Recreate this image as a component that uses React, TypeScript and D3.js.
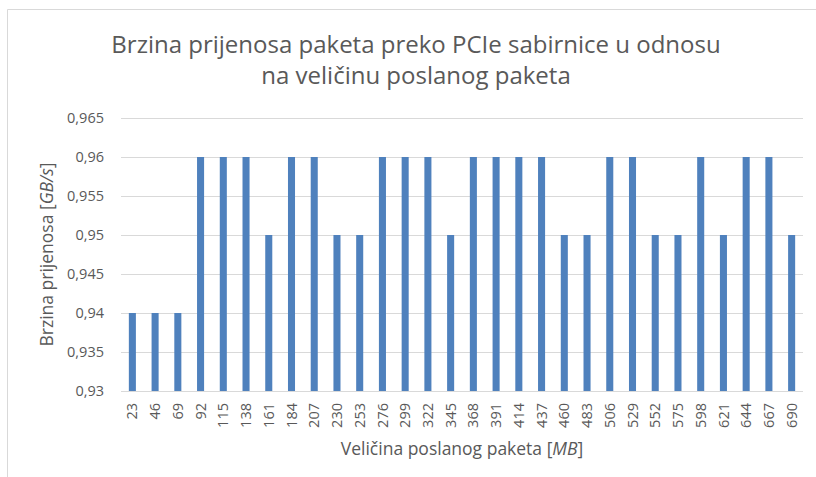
import React, { useEffect, useRef } from 'react';
import * as d3 from 'd3';

// packet sizes in MB
const sizes = [
  23, 46, 69, 92, 115, 138, 161, 184, 207, 230,
  253, 276, 299, 322, 345, 368, 391, 414, 437, 460,
  483, 506, 529, 552, 575, 598, 621, 644, 667, 690,
];

// transfer rate in GB/s
const rates = [
  0.94, 0.94, 0.94, 0.96, 0.96, 0.96, 0.95, 0.96, 0.96, 0.95,
  0.95, 0.96, 0.96, 0.96, 0.95, 0.96, 0.96, 0.96, 0.96, 0.95,
  0.95, 0.96, 0.96, 0.95, 0.95, 0.96, 0.95, 0.96, 0.96, 0.95,
];

const yTicks = [0.93, 0.935, 0.94, 0.945, 0.95, 0.955, 0.96, 0.965];

const titleLines = [
  'Brzina prijenosa paketa preko PCIe sabirnice u odnosu',
  'na veličinu poslanog paketa',
];

const W = 816;
const H = 477;
const TEXT = '#595959';
const FONT = "'Open Sans', 'Noto Sans', sans-serif";

export default function App() {
  const svgRef = useRef<SVGSVGElement>(null);

  useEffect(() => {
    if (!svgRef.current) return;
    const svg = d3.select(svgRef.current);
    svg.selectAll('*').remove();

    const left = 121;
    const right = 803;
    const top = 118;
    const bottom = 391;

    const x = d3.scaleBand<number>()
      .domain(sizes)
      .range([left, right])
      .paddingInner(0.69)
      .paddingOuter(0.345);

    const y = d3.scaleLinear().domain([0.93, 0.965]).range([bottom, top]);

    // chart frame
    svg.append('path')
      .attr('d', `M7.5,${H} V9.5 H${W}`)
      .attr('fill', 'none')
      .attr('stroke', '#d9d9d9')
      .attr('stroke-width', 1);

    // title
    const title = svg.append('text')
      .attr('text-anchor', 'middle')
      .attr('fill', TEXT)
      .style('font-family', FONT)
      .style('font-size', '24px');
    titleLines.forEach((line, i) => {
      title.append('tspan')
        .attr('x', 416)
        .attr('y', 53 + i * 31)
        .text(line);
    });

    // gridlines
    svg.append('g')
      .selectAll('line')
      .data(yTicks)
      .join('line')
      .attr('x1', left)
      .attr('x2', right)
      .attr('y1', d => Math.round(y(d)) + 0.5)
      .attr('y2', d => Math.round(y(d)) + 0.5)
      .attr('stroke', '#d9d9d9')
      .attr('stroke-width', 1);

    // y tick labels
    const fmt = (v: number) => d3.format('.3~f')(v).replace('.', ',');
    svg.append('g')
      .selectAll('text')
      .data(yTicks)
      .join('text')
      .attr('x', 104)
      .attr('y', d => y(d))
      .attr('dy', '0.35em')
      .attr('text-anchor', 'end')
      .attr('fill', TEXT)
      .style('font-family', FONT)
      .style('font-size', '14.5px')
      .text(d => fmt(d));

    // bars
    svg.append('g')
      .selectAll('rect')
      .data(sizes)
      .join('rect')
      .attr('x', d => x(d)!)
      .attr('width', x.bandwidth())
      .attr('y', (d, i) => y(rates[i]))
      .attr('height', (d, i) => bottom - y(rates[i]))
      .attr('fill', '#4f81bd');

    // x tick labels, rotated
    svg.append('g')
      .selectAll('text')
      .data(sizes)
      .join('text')
      .attr('transform', d => `translate(${x(d)! + x.bandwidth() / 2},403) rotate(-90)`)
      .attr('dy', '0.35em')
      .attr('text-anchor', 'end')
      .attr('fill', TEXT)
      .style('font-family', FONT)
      .style('font-size', '14.5px')
      .text(d => d);

    // x axis title
    const xt = svg.append('text')
      .attr('x', (left + right) / 2)
      .attr('y', 455)
      .attr('text-anchor', 'middle')
      .attr('fill', TEXT)
      .style('font-family', FONT)
      .style('font-size', '17.5px');
    xt.append('tspan').text('Veličina poslanog paketa [');
    xt.append('tspan').style('font-style', 'italic').text('MB');
    xt.append('tspan').text(']');

    // y axis title
    const yt = svg.append('text')
      .attr('transform', `translate(53,${(top + bottom) / 2}) rotate(-90)`)
      .attr('text-anchor', 'middle')
      .attr('fill', TEXT)
      .style('font-family', FONT)
      .style('font-size', '17.5px');
    yt.append('tspan').text('Brzina prijenosa [');
    yt.append('tspan').style('font-style', 'italic').text('GB/s');
    yt.append('tspan').text(']');
  }, []);

  return (
    <svg
      ref={svgRef}
      width={W}
      height={H}
      style={{ position: 'absolute', left: 0, top: 0, background: '#fff' }}
    />
  );
}
